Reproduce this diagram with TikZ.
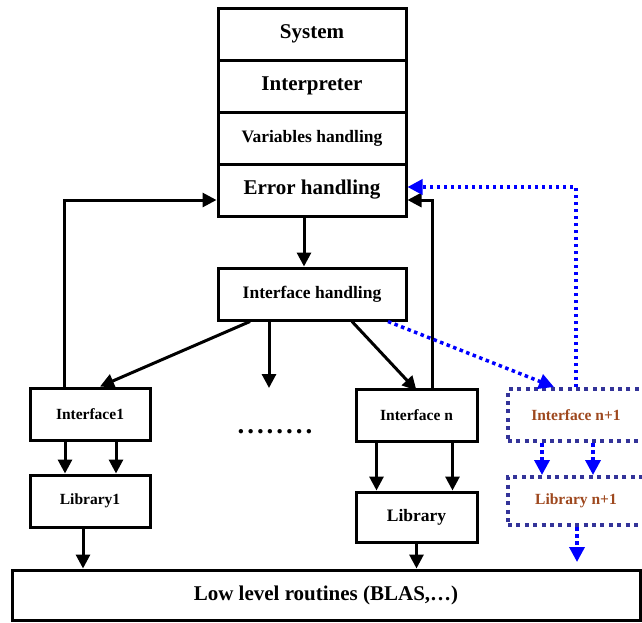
\documentclass[tikz,border=0pt]{standalone}
\usepackage{fontspec}
\setmainfont{Liberation Serif}
\usetikzlibrary{arrows.meta}

\definecolor{dotbox}{RGB}{51,51,153}
\definecolor{dotarr}{RGB}{0,0,255}
\definecolor{newtxt}{RGB}{158,72,30}

\tikzset{
  blk/.style={draw=black,line width=3pt,inner sep=0pt,font=\bfseries},
  dotblk/.style={draw=dotbox,line width=4pt,dash pattern=on 4pt off 4.4pt,inner sep=0pt,
                 text=newtxt,font=\bfseries\fontsize{15.5}{18}\selectfont},
  arr/.style={line width=3pt,-{Triangle[length=14pt,width=14pt]}},
  bluearr/.style={draw=dotarr,line width=3.5pt,dash pattern=on 3.5pt off 3.5pt,
                  -{Triangle[length=15pt,width=15pt,fill=dotarr]}},
  big/.style={font=\bfseries\fontsize{21}{24}\selectfont},
  mid/.style={font=\bfseries\fontsize{17.5}{20}\selectfont},
  small/.style={font=\bfseries\fontsize{15.5}{18}\selectfont}
}

\begin{document}
\begin{tikzpicture}[x=1pt,y=-1pt]
\useasboundingbox (0,0) rectangle (642,622);
\clip (0,0) rectangle (642,622);
% main stack
\node[blk,big,minimum width=188pt,minimum height=52pt] (sys) at (312,34) {System};
\node[blk,big,minimum width=188pt,minimum height=52pt] (interp) at (312,86) {Interpreter};
\node[blk,mid,minimum width=188pt,minimum height=52pt] (vars) at (312,138) {Variables handling};
\node[blk,big,minimum width=188pt,minimum height=52pt] (err) at (312,190) {Error handling};
\node[blk,mid,minimum width=188pt,minimum height=52pt] (ih) at (312,294) {Interface handling};
% interfaces and libraries
\node[blk,small,minimum width=120pt,minimum height=52pt] (if1) at (90,414) {Interface1};
\node[blk,small,minimum width=120pt,minimum height=52pt] (lib1) at (90,501) {Library1};
\node[blk,small,minimum width=121pt,minimum height=52pt] (ifn) at (416.5,415) {Interface n};
\node[blk,mid,minimum width=121pt,minimum height=50pt] (libn) at (416.5,517) {Library};
\node[dotblk,minimum width=136pt,minimum height=52pt] (ifm) at (576,415) {Interface n+1};
\node[dotblk,minimum width=136pt,minimum height=48pt] (libm) at (576,501) {Library n+1};
\node[blk,big,minimum width=628pt,minimum height=50pt] (low) at (326,595) {Low level routines (BLAS,\ldots)};
\node[anchor=base,font=\bfseries\fontsize{27}{27}\selectfont\addfontfeature{LetterSpace=11},inner sep=0pt] (dots) at (275,433) {........};
\coordinate (midend) at (269,388);
\coordinate (libend) at (577,562);

% connectors
\draw[arr] ([xshift=-8pt]err.south) -- ([xshift=-8pt]ih.north);
\draw[arr] ([xshift=-26pt]if1.north) |- ([yshift=-10pt]err.west);
\draw[arr] ([xshift=16pt]ifn.north) |- ([yshift=-10pt]err.east);
\draw[arr] ([xshift=-62pt]ih.south) -- ([xshift=10pt]if1.north);
\draw[arr] ([xshift=-43pt]ih.south) -- (midend);
\draw[arr] ([xshift=40pt]ih.south) -- ([yshift=-3pt]ifn.north);
\draw[arr] ([xshift=-25pt]if1.south) -- ([xshift=-25pt]lib1.north);
\draw[arr] ([xshift=26pt]if1.south) -- ([xshift=26pt]lib1.north);
\draw[arr] ([xshift=-7pt]lib1.south) -- ([xshift=-7pt]lib1.south |- low.north);
\draw[arr] ([xshift=-40pt]ifn.south) -- ([xshift=-40pt]libn.north);
\draw[arr] ([xshift=36pt]ifn.south) -- ([xshift=36pt]libn.north);
\draw[arr] (libn.south) -- (libn.south |- low.north);
% new interface
\draw[bluearr] (ifm.north) |- ([yshift=3pt]err.east);
\draw[bluearr] ([xshift=76pt]ih.south) -- ([xshift=-22pt]ifm.north);
\draw[bluearr] ([xshift=-34pt]ifm.south) -- ([xshift=-34pt]libm.north);
\draw[bluearr] ([xshift=17pt]ifm.south) -- ([xshift=17pt]libm.north);
\draw[bluearr] ([xshift=1pt]libm.south) -- (libend);
\end{tikzpicture}
\end{document}
